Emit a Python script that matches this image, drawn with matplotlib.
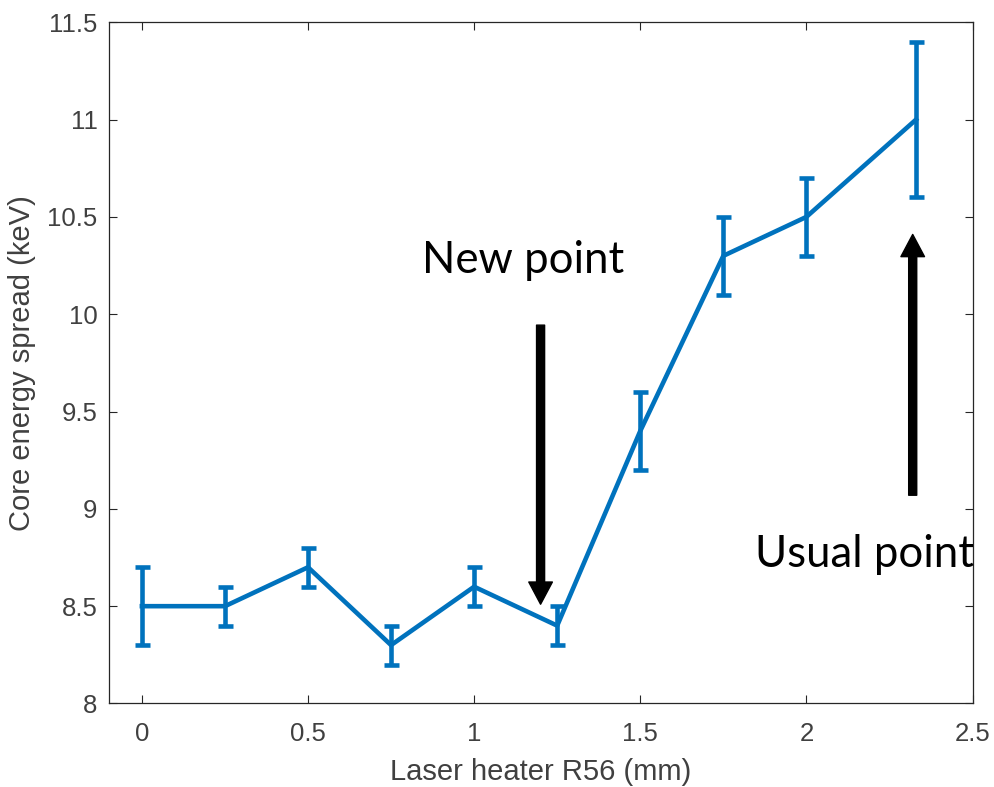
import matplotlib
matplotlib.use('Agg')
import matplotlib.pyplot as plt
from matplotlib.patches import FancyArrowPatch

r56 = [0, 0.25, 0.5, 0.75, 1.0, 1.25, 1.5, 1.75, 2.0, 2.33]
spread = [8.5, 8.5, 8.7, 8.3, 8.6, 8.4, 9.4, 10.3, 10.5, 11.0]
spread_err = [0.2, 0.1, 0.1, 0.1, 0.1, 0.1, 0.2, 0.2, 0.2, 0.4]

x_ticks = [0, 0.5, 1, 1.5, 2, 2.5]
x_tick_labels = ['0', '0.5', '1', '1.5', '2', '2.5']
y_ticks = [8, 8.5, 9, 9.5, 10, 10.5, 11, 11.5]
y_tick_labels = ['8', '8.5', '9', '9.5', '10', '10.5', '11', '11.5']

BLUE = '#0072BD'
AXC = '#262626'
TXT = '#404040'


def add_arrow(ax, start, end):
    arr = FancyArrowPatch(start, end, arrowstyle='simple,head_length=16,head_width=17,tail_width=5.8',
                          mutation_scale=1, color='black', shrinkA=0, shrinkB=0, zorder=5)
    ax.add_patch(arr)


def main():
    plt.rcParams['font.family'] = ['Liberation Sans', 'DejaVu Sans']
    fig = plt.figure(figsize=(9.95, 7.87), dpi=100)
    ax = fig.add_axes([0.1092, 0.1061, 0.8682, 0.8656])

    ax.errorbar(r56, spread, yerr=spread_err, color=BLUE, lw=3.3, capsize=5.4, capthick=3.3)

    ax.set_xlim(-0.1, 2.5)
    ax.set_ylim(8, 11.5)
    ax.set_xticks(x_ticks)
    ax.set_xticklabels(x_tick_labels)
    ax.set_yticks(y_ticks)
    ax.set_yticklabels(y_tick_labels)
    ax.tick_params(direction='in', length=6, width=0.8, colors=AXC, labelcolor=TXT,
                   labelsize=18.5, top=True, right=True)
    ax.tick_params(axis='x', pad=13)
    ax.tick_params(axis='y', pad=8)
    for s in ax.spines.values():
        s.set_color(AXC)
        s.set_linewidth(0.9)

    ax.set_xlabel('Laser heater R56 (mm)', fontsize=21, color=TXT, labelpad=9)
    ax.set_ylabel('Core energy spread (keV)', fontsize=21, color=TXT, labelpad=8)

    # annotations
    add_arrow(ax, (1.2, 9.944), (1.2, 8.51))
    add_arrow(ax, (2.32, 9.07), (2.32, 10.41))
    ax.text(0.842, 10.211, 'New point', fontsize=31.5, family=['Lato', 'DejaVu Sans'],
            ha='left', va='baseline', color='black')
    ax.text(1.846, 8.703, 'Usual point', fontsize=31.5, family=['Lato', 'DejaVu Sans'],
            ha='left', va='baseline', color='black', clip_on=False)

    fig.savefig('out.png', dpi=100)


if __name__ == "__main__":
    main()
